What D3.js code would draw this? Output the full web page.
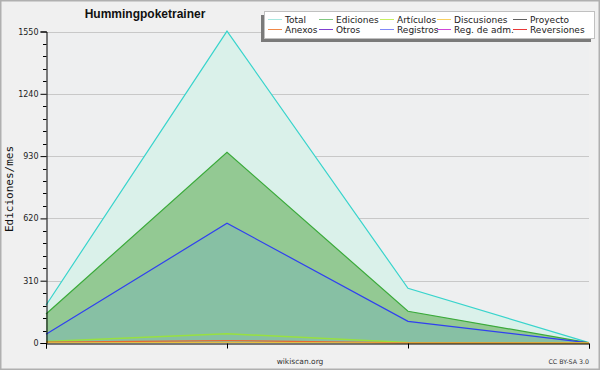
<!DOCTYPE html>
<html><head><meta charset="utf-8">
<script src="https://cdn.jsdelivr.net/npm/d3@7"></script>
<style>body{margin:0;background:#f0f0f0}svg{display:block}</style>
</head><body><svg id="c" width="600" height="370"></svg>
<script>
const months = [0, 1, 2, 3];
const total = [188, 1552, 272, 2];
const ediciones = [144, 949, 158, 1];
const registros = [43, 596, 108, 1];
const articulos = [7, 46, 3, 0];
const anexos = [4, 12, 1, 0];
const discusiones = [1, 3, 0, 0];
const yTicks = [0, 310, 620, 930, 1240, 1550];
const legendItems = [
  ["Total", "#a8e8e0"], ["Ediciones", "#80c880"], ["Artículos", "#c8f060"], ["Discusiones", "#f8d060"], ["Proyecto", "#606060"],
  ["Anexos", "#f08848"], ["Otros", "#8040d0"], ["Registros", "#8088f8"], ["Reg. de adm.", "#d048d8"], ["Reversiones", "#e83838"]
];

const svg = d3.select("#c");
const font = "DejaVu Sans, sans-serif";
svg.append("rect").attr("x", 0.5).attr("y", 0.5).attr("width", 599).attr("height", 369)
  .attr("fill", "#f0f0f0").attr("stroke", "#b0b0b0").attr("stroke-width", 2);

const x = d3.scaleLinear().domain([0, 3]).range([46, 589]);
const y = d3.scaleLinear().domain([0, 1550]).range([343, 31.5]);

svg.append("rect").attr("x", 46).attr("y", 31.5).attr("width", 543).attr("height", 311.5).attr("fill", "#eeeff0");
svg.append("g").selectAll("line").data(yTicks.slice(1)).join("line")
  .attr("x1", 46).attr("x2", 589).attr("y1", d => Math.round(y(d)) + 0.5).attr("y2", d => Math.round(y(d)) + 0.5)
  .attr("stroke", "#c8c8c8");

function areaOf(vals) {
  return d3.area().x((d, i) => x(months[i])).y0(y(0)).y1(d => y(d))(vals);
}
function lineOf(vals) {
  return d3.line().x((d, i) => x(months[i])).y(d => y(d))(vals);
}
svg.append("path").attr("d", areaOf(total)).attr("fill", "#daf1ea");
svg.append("path").attr("d", lineOf(total)).attr("fill", "none").attr("stroke", "#38d4cc").attr("stroke-width", 1.2);
svg.append("path").attr("d", areaOf(ediciones)).attr("fill", "#93c993");
svg.append("path").attr("d", lineOf(ediciones)).attr("fill", "none").attr("stroke", "#3aaa3a").attr("stroke-width", 1.2);
svg.append("path").attr("d", areaOf(registros)).attr("fill", "#87c0a4");
svg.append("path").attr("d", lineOf(registros)).attr("fill", "none").attr("stroke", "#3040f0").attr("stroke-width", 1.2);
svg.append("path").attr("d", lineOf(articulos)).attr("fill", "none").attr("stroke", "#98e040").attr("stroke-width", 1.5);
svg.append("path").attr("d", lineOf(anexos)).attr("fill", "none").attr("stroke", "#e86830").attr("stroke-width", 1.2);
svg.append("path").attr("d", lineOf(discusiones)).attr("fill", "none").attr("stroke", "#e8c040").attr("stroke-width", 1);

// Y axis
const yAxis = d3.axisLeft(y).tickValues(yTicks).tickSize(6).tickPadding(2).tickFormat(d3.format("d"));
const yg = svg.append("g").attr("transform", "translate(46.5,0)").call(yAxis);
yg.select(".domain").attr("stroke", "#000");
yg.selectAll("text").attr("font-family", font).attr("font-size", 8).attr("fill", "#222");
const minor = d3.range(0, 1551, 62).filter(v => yTicks.indexOf(v) < 0);
svg.append("g").selectAll("line").data(minor).join("line")
  .attr("x1", 43).attr("x2", 46.5).attr("y1", d => Math.round(y(d)) + 0.5).attr("y2", d => Math.round(y(d)) + 0.5)
  .attr("stroke", "#000");

// X axis
const xAxis = d3.axisBottom(x).tickValues(months).tickSize(5).tickFormat("");
const xg = svg.append("g").attr("transform", "translate(0,343.5)").call(xAxis);
xg.select(".domain").attr("stroke", "#000");

// texts
svg.append("text").attr("x", 145).attr("y", 18).attr("text-anchor", "middle").attr("font-family", "Liberation Sans, Arial, sans-serif")
  .attr("font-size", 12).attr("font-weight", "bold").attr("fill", "#111").text("Hummingpoketrainer");
svg.append("text").attr("transform", "translate(13,189) rotate(-90)").attr("text-anchor", "middle")
  .attr("font-family", "DejaVu Sans Mono, monospace").attr("font-size", 11).attr("fill", "#111").text("Ediciones/mes");
svg.append("text").attr("x", 300).attr("y", 364).attr("text-anchor", "middle").attr("font-family", font)
  .attr("font-size", 7.5).attr("fill", "#333").text("wikiscan.org");
svg.append("text").attr("x", 589).attr("y", 364).attr("text-anchor", "end").attr("font-family", font)
  .attr("font-size", 6.3).attr("fill", "#333").text("CC BY-SA 3.0");

// Legend
const lg = svg.append("g");
lg.append("rect").attr("x", 261).attr("y", 15).attr("width", 330).attr("height", 27).attr("fill", "#7a7a7a");
lg.append("rect").attr("x", 264.5).attr("y", 11.5).attr("width", 330).attr("height", 27).attr("fill", "#fff").attr("stroke", "#c0c0c0");
const colX = [268, 319, 380, 437, 513];
legendItems.forEach((it, i) => {
  const cx = colX[i % 5], cy = i < 5 ? 19.5 : 29.5;
  lg.append("line").attr("x1", cx).attr("x2", cx + 14).attr("y1", cy).attr("y2", cy).attr("stroke", it[1]);
  lg.append("text").attr("x", cx + 17).attr("y", cy + 3.2).attr("font-family", font).attr("font-size", 9)
    .attr("fill", "#222").text(it[0]);
});
</script></body></html>
